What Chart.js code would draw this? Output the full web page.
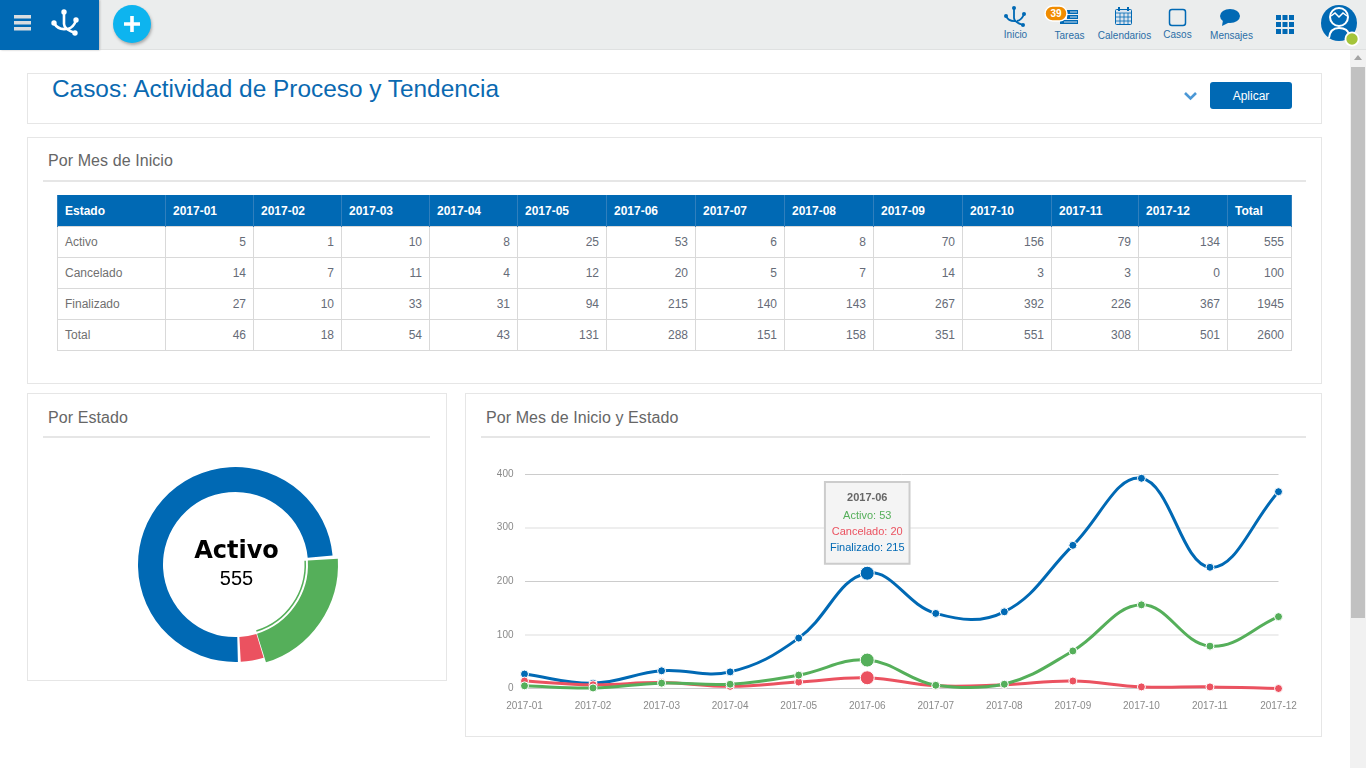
<!DOCTYPE html>
<html lang="es"><head><meta charset="utf-8"><title>Casos</title>
<script src="https://cdn.jsdelivr.net/npm/chart.js@4/dist/chart.umd.min.js"></script>
<style>
html,body{margin:0;padding:0;width:1366px;height:768px;overflow:hidden;background:#fff;font-family:"Liberation Sans",Arial,sans-serif;}
.abs,.panel,.nav,.lbl,canvas{position:absolute;}
.nav{left:0;top:0;width:1366px;height:49px;background:#ebeded;border-bottom:1px solid #dfe1e1;}
.brand{position:absolute;left:0;top:0;width:99px;height:50px;background:#0069b4;box-shadow:1px 0 2px #bbb;}
.plus{position:absolute;left:113px;top:5px;width:38px;height:38px;border-radius:50%;background:#0db4ef;box-shadow:1px 2px 3px #aaa;}
.lbl{font-size:10px;color:#2a6ea6;text-align:center;white-space:nowrap;transform:translateX(-50%);}
.panel{border:1px solid #e6e6e6;box-sizing:border-box;background:#fff;}
.title{position:absolute;left:52px;top:75px;font-size:24.4px;line-height:28px;color:#0a69b1;white-space:nowrap;}
.h{position:absolute;font-size:16px;line-height:20px;color:#666;white-space:nowrap;letter-spacing:.08px;}
.rule{position:absolute;height:2px;background:#e6e6e6;}
.btn{position:absolute;left:1210px;top:82px;width:82px;height:27px;border-radius:3px;background:#0069b4;color:#fff;font-size:12px;line-height:28px;text-align:center;}
table{position:absolute;left:57px;top:195px;border-collapse:collapse;table-layout:fixed;width:1235px;font-size:12px;color:#666c78;}
th{background:#0069b4;color:#fff;font-weight:bold;text-align:left;height:31px;padding:2px 7px 0;box-sizing:border-box;border:1px solid #2f7fbd;border-top:0;border-bottom:0;}
td{height:31px;padding:0 7px;box-sizing:border-box;border:1px solid #d9d9d9;text-align:right;}
td:first-child{text-align:left;color:#707070;}
.c{position:absolute;text-align:center;white-space:nowrap;transform:translateX(-50%);}
.sb{position:absolute;left:1350px;top:50px;width:16px;height:718px;background:#f1f1f1;}
.th{position:absolute;left:1px;top:17px;width:14px;height:551px;background:#c1c1c1;}
</style></head><body>
<div class="nav"></div>
<div class="brand">
<svg width="99" height="50" viewBox="0 0 99 50">
<g fill="#d9dde0"><rect x="14" y="15" width="17" height="3.5"/><rect x="14" y="21" width="17" height="3.5"/><rect x="14" y="27" width="17" height="3.5"/></g>
<g stroke="#fff" stroke-width="2.6" fill="none" stroke-linecap="round"><path d="M64 12V24Q64 29 75 33"/><path d="M54 23Q58 30 66 29"/><path d="M76 20Q74 27 68 29"/></g>
<g fill="#fff"><circle cx="64" cy="12" r="2.7"/><circle cx="54" cy="23" r="2.7"/><circle cx="76" cy="20" r="2.7"/><circle cx="75" cy="33" r="2.7"/></g>
</svg></div>
<div class="plus"><svg width="38" height="38"><path d="M19 11V27M11 19H27" stroke="#fff" stroke-width="3.6"/></svg></div>
<svg class="abs" style="left:1000px;top:0" width="366" height="50" viewBox="1000 0 366 50">
<g stroke="#0069b4" stroke-width="1.8" fill="none"><path d="M1014 8V18Q1014 22 1023 25"/><path d="M1006 16Q1009 22 1016 21"/><path d="M1024 14Q1022 20 1017 21"/></g>
<g fill="#0069b4"><circle cx="1014" cy="8" r="2"/><circle cx="1006" cy="16" r="2"/><circle cx="1024" cy="14" r="2"/><circle cx="1023" cy="25" r="2"/>
<rect x="1067" y="10" width="11" height="4"/><rect x="1067" y="15" width="11" height="4"/><rect x="1060" y="20" width="18" height="4"/>
<ellipse cx="1230" cy="16" rx="10" ry="7"/><path d="M1223 20L1222 26L1230 22Z"/>
</g>
<path d="M1070 12H1077M1070 17H1077M1064 22H1077" stroke="#cfe0ee" stroke-width="1"/>
<rect x="1115.500" y="9.500" width="16" height="15" rx="1" fill="#dbe4ee" stroke="#0069b4"/><path d="M1116 13H1131M1120 13V24M1124 13V24M1128 13V24M1116 17H1131M1116 21H1131" stroke="#0069b4" stroke-width=".8"/><path d="M1119 7V11M1128 7V11" stroke="#0069b4" stroke-width="2"/>
<rect x="1169.500" y="9.500" width="16" height="16" rx="2.500" fill="none" stroke="#0069b4" stroke-width="1.500"/>
<g fill="#0069b4"><rect x="1276" y="15" width="5" height="5"/><rect x="1282.500" y="15" width="5" height="5"/><rect x="1289" y="15" width="5" height="5"/><rect x="1276" y="22" width="5" height="5"/><rect x="1282.500" y="22" width="5" height="5"/><rect x="1289" y="22" width="5" height="5"/><rect x="1276" y="29" width="5" height="5"/><rect x="1282.500" y="29" width="5" height="5"/><rect x="1289" y="29" width="5" height="5"/></g>
<circle cx="1339" cy="23" r="18" fill="#0069b4"/>
<circle cx="1339" cy="17" r="9" fill="none" stroke="#fff" stroke-width="2"/><path d="M1331 16L1335 13L1339 17L1343 13L1347 16" stroke="#fff" fill="none" stroke-width="1.500"/><path d="M1329 38Q1330 28 1339 28Q1348 28 1349 35" fill="none" stroke="#fff" stroke-width="2"/>
<circle cx="1352" cy="39" r="7.500" fill="#fff"/><circle cx="1352" cy="39" r="5.700" fill="#a4c43a"/>
<rect x="1045" y="6" width="22" height="15" rx="7.500" fill="#f08c00" stroke="#fff" stroke-width="1.500"/>
</svg>
<div class="c" style="left:1056px;top:7px;font-size:10px;line-height:13px;color:#fff;font-weight:bold;">39</div>
<div class="lbl" style="left:1015.500px;top:29px;">Inicio</div>
<div class="lbl" style="left:1069.500px;top:30px;">Tareas</div>
<div class="lbl" style="left:1124.500px;top:30px;">Calendarios</div>
<div class="lbl" style="left:1177.500px;top:29px;">Casos</div>
<div class="lbl" style="left:1231.500px;top:30px;">Mensajes</div>

<div class="panel" style="left:27px;top:73px;width:1295px;height:51px;"></div>
<div class="title">Casos: Actividad de Proceso y Tendencia</div>
<svg class="abs" style="left:1183px;top:91px" width="15" height="11"><path d="M2 2L7.500 7.500L13 2" stroke="#4b98d6" stroke-width="2.600" fill="none"/></svg>
<div class="btn">Aplicar</div>

<div class="panel" style="left:27px;top:137px;width:1295px;height:247px;"></div>
<div class="h" style="left:48px;top:151px;">Por Mes de Inicio</div>
<div class="rule" style="left:43px;top:180px;width:1263px;"></div>
<table id="tbl"></table>

<div class="panel" style="left:27px;top:393px;width:420px;height:288px;"></div>
<div class="h" style="left:48px;top:408px;">Por Estado</div>
<div class="rule" style="left:43px;top:436px;width:387px;"></div>
<canvas id="pieActivo" style="left:130px;top:459px;width:211px;height:211px;"></canvas>
<canvas id="pie" style="left:130px;top:459px;width:211px;height:211px;"></canvas>
<div class="c" style="left:236.500px;top:535px;font:bold 24px/30px 'DejaVu Sans',sans-serif;color:#000;">Activo</div>
<div class="c" style="left:236.500px;top:566px;font-size:20px;line-height:24px;color:#000;">555</div>

<div class="panel" style="left:465px;top:393px;width:857px;height:344px;"></div>
<div class="h" style="left:486px;top:408px;">Por Mes de Inicio y Estado</div>
<div class="rule" style="left:481px;top:436px;width:825px;"></div>
<canvas id="line" style="left:481px;top:457px;width:825px;height:268px;"></canvas>

<div class="sb"><svg width="16" height="17"><path d="M4 10L8 5L12 10Z" fill="#a3a3a3"/></svg><div class="th"></div></div>

<script>
const categories=["2017-01","2017-02","2017-03","2017-04","2017-05","2017-06","2017-07","2017-08","2017-09","2017-10","2017-11","2017-12"];
const activo=[5,1,10,8,25,53,6,8,70,156,79,134];
const cancelado=[14,7,11,4,12,20,5,7,14,3,3,0];
const finalizado=[27,10,33,31,94,215,140,143,267,392,226,367];
const totalesMes=[46,18,54,43,131,288,151,158,351,551,308,501];
const totalesEstado=[555,100,1945,2600];
const estados=["Activo","Cancelado","Finalizado","Total"];
const yTicks=[0,100,200,300,400];
const pieLabels=["Finalizado","Activo","Cancelado"];
const pieValues=[1945,555,100];
const BLUE="#0069b4",GREEN="#55af5a",RED="#eb5260";

const colW=[108,88,88,88,88,89,89,89,89,89,89,87,89,64];
const rows=[activo,cancelado,finalizado,totalesMes];
let html="<colgroup>"+colW.map(w=>`<col style="width:${w}px">`).join("")+"</colgroup><tr><th>Estado</th>"+categories.map(c=>`<th>${c}</th>`).join("")+"<th>Total</th></tr>";
rows.forEach((r,i)=>{html+=`<tr><td>${estados[i]}</td>`+r.map(v=>`<td>${v}</td>`).join("")+`<td>${totalesEstado[i]}</td></tr>`;});
document.getElementById("tbl").innerHTML=html;

Chart.defaults.font.family='"Liberation Sans",Arial,sans-serif';
Chart.defaults.animation=false;
Chart.defaults.responsive=false;
Chart.defaults.devicePixelRatio=1;

function setSize(id,w,h){const c=document.getElementById(id);c.width=w;c.height=h;}
setSize("pie",211,211);setSize("pieActivo",211,211);setSize("line",825,268);

const T="rgba(0,0,0,0)";
const pieOpts=cutout=>({rotation:177,spacing:2,cutout,layout:{padding:3},events:[],plugins:{legend:{display:false},tooltip:{enabled:false}}});
new Chart(document.getElementById("pieActivo"),{
 type:"doughnut",
 data:{labels:pieLabels,datasets:[{data:pieValues,backgroundColor:[T,GREEN,T],borderWidth:0}]},
 options:pieOpts("70.4%")
});
new Chart(document.getElementById("pie"),{
 type:"doughnut",
 data:{labels:pieLabels,datasets:[
  {data:pieValues,backgroundColor:[T,T,T],borderWidth:0,weight:5},
  {data:pieValues,backgroundColor:[BLUE,T,RED],borderWidth:0,weight:25},
  {data:pieValues,backgroundColor:[T,T,T],borderWidth:0,weight:2},
  {data:pieValues,backgroundColor:[T,GREEN,T],borderWidth:0,weight:1.5}
 ]},
 options:pieOpts("67%")
});

Chart.Tooltip.positioners.encima=function(items){
 if(!items.length)return false;
 return {x:items[0].element.x,y:Math.min(...items.map(i=>i.element.y))-9.5};
};
const serie=(label,data,color)=>({label,data,borderColor:color,backgroundColor:color,pointBackgroundColor:color,pointBorderColor:"#fff",pointBorderWidth:1,pointRadius:4,pointHoverRadius:7,pointHoverBorderWidth:1,pointHoverBorderColor:"#fff",pointHoverBackgroundColor:color,borderWidth:3,tension:0.4,clip:false});
const lineChart=new Chart(document.getElementById("line"),{
 type:"line",
 data:{labels:categories,datasets:[serie("Activo",activo,GREEN),serie("Cancelado",cancelado,RED),serie("Finalizado",finalizado,BLUE)]},
 options:{
  layout:{padding:{top:11,right:27.5,bottom:0,left:0}},
  interaction:{mode:"index",intersect:false},
  events:[],
  scales:{
   x:{grid:{display:false},border:{display:false},afterFit(s){s.height=36.5;},ticks:{color:"#8a8a8a",font:{size:10},maxRotation:0,autoSkip:false,padding:4}},
   y:{min:0,max:400,afterFit(s){s.width=43.5;},afterBuildTicks(s){s.ticks=yTicks.map(v=>({value:v}));},
      grid:{color:c=>c.tick&&c.tick.value%200===0?"#cccccc":"#eeeeee",lineWidth:c=>c.tick&&c.tick.value%200===0?1:2,drawTicks:false},border:{display:false},
      ticks:{color:"#8a8a8a",font:{size:10},padding:11}}
  },
  plugins:{legend:{display:false},tooltip:{
   position:"encima",xAlign:"center",yAlign:"bottom",caretSize:0,caretPadding:0,
   backgroundColor:"#f4f4f4",borderColor:"#cccccc",borderWidth:2,cornerRadius:0,displayColors:false,
   titleColor:"#666",titleFont:{size:11,weight:"bold"},titleAlign:"center",titleMarginBottom:5,
   bodyFont:{size:11},bodyAlign:"center",bodySpacing:3,padding:{top:9,bottom:9,left:5,right:5},
   callbacks:{labelTextColor:c=>c.dataset.borderColor}
  }}
 }
});
const idx=categories.indexOf("2017-06");
const act=lineChart.data.datasets.map((d,i)=>({datasetIndex:i,index:idx}));
lineChart.setActiveElements(act);
lineChart.tooltip.setActiveElements(act,{x:0,y:0});
lineChart.update();
</script>
</body></html>
